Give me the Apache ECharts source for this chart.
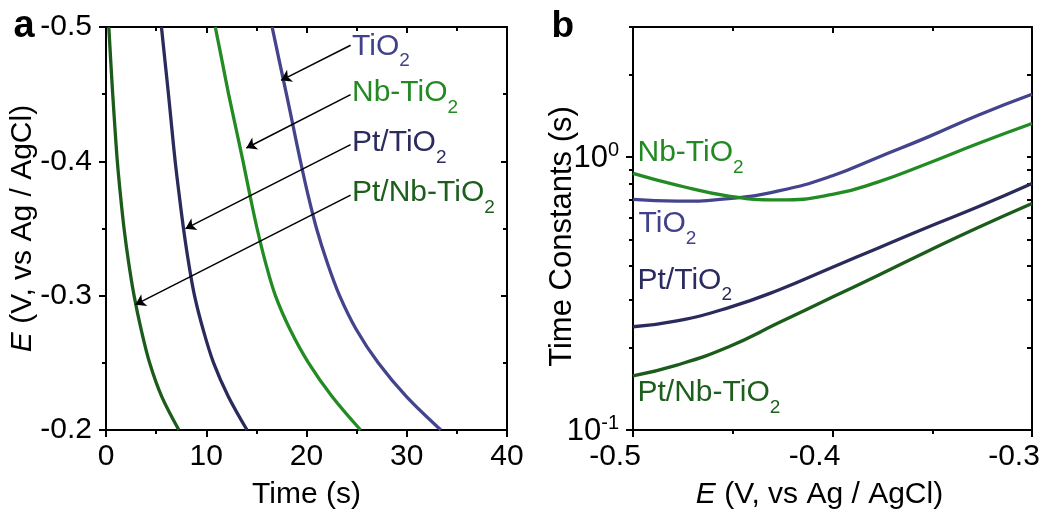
<!DOCTYPE html>
<html>
<head>
<meta charset="utf-8">
<script src="https://cdn.jsdelivr.net/npm/echarts@6/dist/echarts.min.js"></script>
<style>
  html, body { margin: 0; padding: 0; background: #fff; }
  #chart { width: 1045px; height: 509px; }
</style>
</head>
<body>
<div id="chart"></div>
<script>
// ---- Panel a: potential decay, time (s) at which each E (V vs Ag/AgCl) is reached ----
const decayPotentials = [-0.5, -0.475, -0.45, -0.425, -0.4, -0.375, -0.35, -0.325, -0.3, -0.275, -0.25, -0.225, -0.2];
const decayTiO2      = [16.57, 17.28, 18.0, 18.7, 19.4, 20.15, 21.0, 22.05, 23.3, 24.95, 27.15, 29.95, 33.4];
const decayNbTiO2    = [10.9, 11.57, 12.23, 12.95, 13.67, 14.35, 15.07, 15.9, 16.9, 18.35, 20.2, 22.55, 25.4];
const decayPtTiO2    = [5.53, 5.88, 6.23, 6.56, 6.9, 7.3, 7.73, 8.23, 8.83, 9.68, 10.73, 12.2, 14.07];
const decayPtNbTiO2  = [0.28, 0.47, 0.67, 0.89, 1.13, 1.44, 1.8, 2.25, 2.8, 3.5, 4.35, 5.55, 7.27];

// ---- Panel b: time constants (s) versus E ----
const tauPotentials = [-0.5, -0.478, -0.452, -0.427, -0.4, -0.377, -0.352, -0.327, -0.3];
const tauTiO2       = [0.70, 0.69, 0.705, 0.752, 0.855, 1.0, 1.187, 1.425, 1.70];
const tauNbTiO2     = [0.872, 0.79, 0.72, 0.697, 0.73, 0.812, 0.95, 1.122, 1.328];
const tauPtTiO2     = [0.239, 0.251, 0.281, 0.326, 0.395, 0.465, 0.555, 0.658, 0.801];
const tauPtNbTiO2   = [0.158, 0.173, 0.202, 0.247, 0.307, 0.369, 0.453, 0.552, 0.676];

// Sample names (main part + subscript) and colours
const samples = [
  { main: 'TiO',       sub: '2', color: '#44448c', text: '#41418a' },
  { main: 'Nb-TiO',    sub: '2', color: '#238b23', text: '#238a23' },
  { main: 'Pt/TiO',    sub: '2', color: '#2a2a5c', text: '#2b2b5f' },
  { main: 'Pt/Nb-TiO', sub: '2', color: '#1b5c1b', text: '#1d5e1d' }
];

// Axis tick positions
const timeRange = [0, 40], timeStep = 10;
const potRangeA = [-0.5, -0.2], potStepA = 0.1;
const potRangeB = [-0.5, -0.3], potStepB = 0.1;
const tauRange = [0.1, 3];
const tauDecades = [0.1, 1];
const tauMinor = [0.2, 0.3, 0.4, 0.5, 0.6, 0.7, 0.8, 0.9, 2, 3];

// Callout arrows in panel a (from label to curve), in data units [t, E]
const calloutArrows = [
  [[24.4, -0.4864], [17.47, -0.4603]],
  [[24.4, -0.4496], [14.0, -0.4099]],
  [[24.4, -0.4124], [7.93, -0.3499]],
  [[24.4, -0.3748], [2.93, -0.2933]]
];

const FONT = 'Arial, "Liberation Sans", Helvetica, sans-serif';
const BLACK = '#000';

function pairs(xs, ys) { return xs.map((x, i) => [x, ys[i]]); }

function axis(o) {
  return Object.assign({
    silent: true,
    nameMoveOverlap: false,
    splitLine: { show: false },
    axisLine: { show: true, onZero: false, lineStyle: { color: BLACK, width: 2 } },
    axisTick: { show: false },
    minorTick: { show: false },
    axisLabel: { show: false }
  }, o);
}
const tick = (len, inside, extra) => Object.assign({ show: true, inside: inside, length: len, lineStyle: { color: BLACK, width: 2 } }, extra || {});
const minor = (len) => ({ show: true, splitNumber: 2, length: len, lineStyle: { color: BLACK, width: 2 } });
const tickLabel = (extra) => Object.assign({ show: true, fontSize: 30, color: BLACK, fontFamily: FONT }, extra);
const nameStyle = (extra) => Object.assign({
  fontSize: 30, color: BLACK, fontFamily: FONT,
  rich: { i: { fontSize: 30, fontStyle: 'italic', fontFamily: FONT, color: BLACK } }
}, extra || {});

const log10 = Math.log10;
const logSpan = [log10(tauRange[0]), log10(tauRange[1])];

// Sample name with a subscript "2": the taller line box of the subscript pushes it down
function labelRich(color) {
  return {
    m: { fontSize: 30, lineHeight: 30, fontFamily: FONT, fill: color, verticalAlign: 'top' },
    s: { fontSize: 19, lineHeight: 39, fontFamily: FONT, fill: color, verticalAlign: 'bottom' }
  };
}
function sampleText(idx, x, y) {
  const s = samples[idx];
  return {
    type: 'text', x: x, y: y, silent: true,
    style: { text: '{m|' + s.main + '}{s|' + s.sub + '}', rich: labelRich(s.text), align: 'left', verticalAlign: 'top' }
  };
}

const decaySets = [decayTiO2, decayNbTiO2, decayPtTiO2, decayPtNbTiO2];
const tauSets = [tauTiO2, tauNbTiO2, tauPtTiO2, tauPtNbTiO2];

const series = [];
decaySets.forEach((ts, i) => {
  series.push({
    type: 'line', name: samples[i].main + samples[i].sub,
    xAxisIndex: 0, yAxisIndex: 0,
    data: pairs(ts, decayPotentials),
    smooth: 0.35, showSymbol: false, silent: true,
    lineStyle: { color: samples[i].color, width: 3.3 },
    z: 3
  });
});
series[0].markLine = {
  silent: true, animation: false,
  symbol: ['none', 'arrow'], symbolSize: 10,
  label: { show: false },
  lineStyle: { color: BLACK, width: 1.5, type: 'solid' },
  itemStyle: { color: BLACK },
  data: calloutArrows.map(a => [{ coord: a[0] }, { coord: a[1] }])
};
tauSets.forEach((vs, i) => {
  series.push({
    type: 'line', name: samples[i].main + samples[i].sub + ' tau',
    xAxisIndex: 2, yAxisIndex: 2,
    data: pairs(tauPotentials, vs),
    smooth: 0.5, showSymbol: false, silent: true,
    lineStyle: { color: samples[i].color, width: 3.3 },
    z: 3
  });
});

const option = {
  animation: false,
  backgroundColor: '#fff',
  textStyle: { fontFamily: FONT },
  grid: [
    { left: 106, top: 27, width: 401, height: 403, containLabel: false, outerBoundsMode: 'none' },
    { left: 633, top: 27, width: 399, height: 403, containLabel: false, outerBoundsMode: 'none' }
  ],
  xAxis: [
    axis({ gridIndex: 0, type: 'value', min: timeRange[0], max: timeRange[1], interval: timeStep, position: 'bottom',
      axisTick: tick(7, false), minorTick: minor(4),
      axisLabel: tickLabel({ margin: 12 }),
      name: 'Time (s)', nameLocation: 'middle', nameGap: 50, nameTextStyle: nameStyle() }),
    axis({ gridIndex: 0, type: 'value', min: timeRange[0], max: timeRange[1], interval: timeStep, position: 'top',
      axisTick: tick(6, true), minorTick: minor(4) }),
    axis({ gridIndex: 1, type: 'value', min: potRangeB[0], max: potRangeB[1], interval: potStepB, position: 'bottom',
      axisTick: tick(7, false), minorTick: minor(4),
      axisLabel: tickLabel({ margin: 12, padding: [0, 36, 0, 0] }),
      name: '{i|E} (V, vs Ag / AgCl)', nameLocation: 'middle', nameGap: 50,
      nameTextStyle: nameStyle({ padding: [0, 26, 0, 0] }) }),
    axis({ gridIndex: 1, type: 'value', min: potRangeB[0], max: potRangeB[1], interval: potStepB, position: 'top',
      axisTick: tick(6, true), minorTick: minor(4) })
  ],
  yAxis: [
    axis({ gridIndex: 0, type: 'value', inverse: true, min: potRangeA[0], max: potRangeA[1], interval: potStepA, position: 'left',
      axisTick: tick(7, false), minorTick: minor(4),
      axisLabel: tickLabel({ margin: 14 }),
      name: '{i|E} (V, vs Ag / AgCl)', nameLocation: 'middle', nameGap: 68, nameRotate: 90, nameTextStyle: nameStyle() }),
    axis({ gridIndex: 0, type: 'value', inverse: true, min: potRangeA[0], max: potRangeA[1], interval: potStepA, position: 'right',
      axisTick: tick(6, true), minorTick: minor(4) }),
    // log axis carrying the time-constant curves
    axis({ gridIndex: 1, type: 'log', logBase: 10, min: tauRange[0], max: tauRange[1], position: 'left',
      axisLabel: tickLabel({
        margin: 14,
        formatter: function (v) {
          for (const d of tauDecades) {
            if (Math.abs(v - d) < 1e-9 * Math.max(1, d)) return '{b|10}{p|' + Math.round(log10(d)) + '}';
          }
          return '';
        },
        rich: {
          b: { fontSize: 31, lineHeight: 31, fontFamily: FONT, color: BLACK, verticalAlign: 'bottom' },
          p: { fontSize: 20, lineHeight: 34, fontFamily: FONT, color: BLACK, verticalAlign: 'top' }
        }
      }),
      name: 'Time Constants (s)', nameLocation: 'middle', nameGap: 55, nameRotate: 90,
      nameTextStyle: nameStyle({ fontSize: 31, padding: [0, 16, 0, 0] }) }),
    // decade and minor ticks of the log scale (left, outward)
    axis({ gridIndex: 1, type: 'value', min: logSpan[0], max: logSpan[1], position: 'left', axisLine: { show: false, onZero: false },
      axisTick: tick(7, false, { customValues: tauDecades.map(log10) }) }),
    axis({ gridIndex: 1, type: 'value', min: logSpan[0], max: logSpan[1], position: 'left', axisLine: { show: false, onZero: false },
      axisTick: tick(4, false, { customValues: tauMinor.map(log10) }) }),
    // right frame with inward ticks
    axis({ gridIndex: 1, type: 'value', min: logSpan[0], max: logSpan[1], position: 'right',
      axisTick: tick(5, true, { customValues: tauDecades.concat(tauMinor).map(log10) }) })
  ],
  series: series,
  graphic: [
    { type: 'text', x: 13.5, y: 26.8, silent: true,
      style: { text: 'a', font: 'bold 38px ' + FONT, fill: BLACK, align: 'left', verticalAlign: 'middle' } },
    { type: 'text', x: 551.5, y: 26.5, silent: true,
      style: { text: 'b', font: 'bold 37px ' + FONT, fill: BLACK, align: 'left', verticalAlign: 'middle' } },
    sampleText(0, 352, 31.4),
    sampleText(1, 352, 78),
    sampleText(2, 352, 128),
    sampleText(3, 352, 178),
    sampleText(1, 637.5, 137.8),
    sampleText(0, 638.5, 208.8),
    sampleText(2, 637.5, 265.4),
    sampleText(3, 637.5, 377.8)
  ]
};

const chart = echarts.init(document.getElementById('chart'), null, { renderer: 'canvas' });
chart.setOption(option);
</script>
</body>
</html>
